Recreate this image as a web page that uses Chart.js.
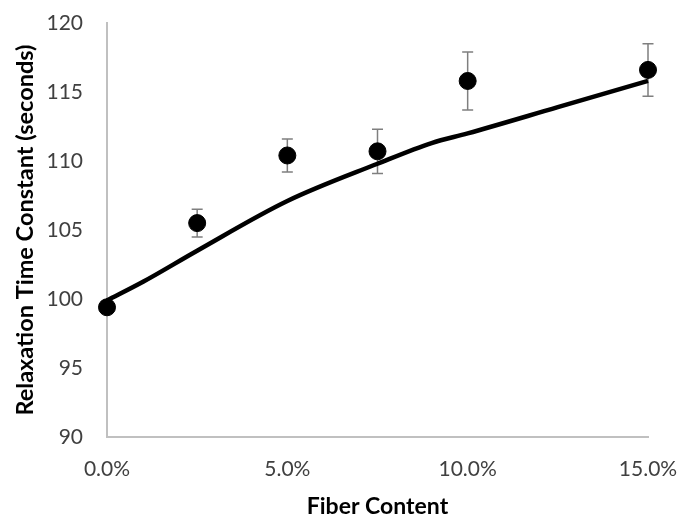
<!DOCTYPE html>
<html><head><meta charset="utf-8">
<script src="https://cdn.jsdelivr.net/npm/chart.js@4/dist/chart.umd.min.js"></script>
<style>html,body{margin:0;padding:0;background:#fff}</style>
</head><body>
<canvas id="c" width="679" height="520" style="width:679px;height:520px;display:block"></canvas>
<script>
// Measured data
const fiberContent = [0, 2.5, 5, 7.5, 10, 15];            // % fiber
const relaxationTime = [99.4, 105.5, 110.4, 110.7, 115.8, 116.6]; // seconds
const errorBars = [0, 1.0, 1.2, 1.6, 2.1, 1.9];           // +/- seconds
// Model curve
const modelX = [0, 1, 2.5, 5, 7.5, 9, 10, 12.5, 15];
const modelY = [99.9, 101.25, 103.5, 107.1, 109.8, 111.3, 112.0, 113.9, 115.8];
// Axis ticks
const xTicks = [0, 5, 10, 15];
const yTicks = [90, 95, 100, 105, 110, 115, 120];

const FONT = "Lato, 'Open Sans', 'Liberation Sans', sans-serif";

const errorBarPlugin = {
  id: 'errorBars',
  beforeDatasetsDraw(chart) {
    const {ctx, scales: {x, y}} = chart;
    ctx.save();
    ctx.strokeStyle = '#7f7f7f';
    ctx.lineWidth = 1.5;
    fiberContent.forEach((fx, i) => {
      const e = errorBars[i];
      if (!e) return;
      const px = x.getPixelForValue(fx);
      const top = y.getPixelForValue(relaxationTime[i] + e);
      const bot = y.getPixelForValue(relaxationTime[i] - e);
      ctx.beginPath();
      ctx.moveTo(px, top); ctx.lineTo(px, bot);
      ctx.moveTo(px - 5.5, top); ctx.lineTo(px + 5.5, top);
      ctx.moveTo(px - 5.5, bot); ctx.lineTo(px + 5.5, bot);
      ctx.stroke();
    });
    ctx.restore();
  }
};

new Chart(document.getElementById('c'), {
  type: 'scatter',
  data: {
    datasets: [
      {
        label: 'Measured',
        data: fiberContent.map((v, i) => ({x: v, y: relaxationTime[i]})),
        backgroundColor: '#000', borderColor: '#000',
        pointRadius: 8.5, pointHoverRadius: 8.5, showLine: false,
        order: 0, clip: false
      },
      {
        label: 'Model',
        data: modelX.map((v, i) => ({x: v, y: modelY[i]})),
        type: 'line', showLine: true, borderColor: '#000', borderWidth: 4.5,
        pointRadius: 0, tension: 0.35, cubicInterpolationMode: 'monotone',
        fill: false, order: 1, clip: false
      }
    ]
  },
  options: {
    responsive: false, animation: false,
    layout: {autoPadding: false, padding: {left: 0, top: 23, right: 31, bottom: 0}},
    plugins: {legend: {display: false}, tooltip: {enabled: false}},
    scales: {
      x: {
        type: 'linear', min: 0, max: 15,
        afterBuildTicks: (s) => { s.ticks = xTicks.map(v => ({value: v})); },
        afterFit: (s) => { s.height = 83; s.paddingLeft = 0; s.paddingRight = 0; },
        grid: {display: false, drawTicks: false},
        border: {display: true, color: '#c0c0c0', width: 2},
        ticks: {
          padding: 20, color: '#404040', font: {family: FONT, size: 21},
          callback: (v) => v.toFixed(1) + '%', maxRotation: 0
        },
        title: {display: true, text: 'Fiber Content', color: '#000',
          font: {family: FONT, size: 23, weight: 'bold'}, padding: {top: 0, bottom: 0}}
      },
      y: {
        min: 90, max: 120,
        afterBuildTicks: (s) => { s.ticks = yTicks.map(v => ({value: v})); },
        afterFit: (s) => { s.width = 107; s.paddingTop = 0; s.paddingBottom = 0; },
        grid: {display: false, drawTicks: false},
        border: {display: true, color: '#c0c0c0', width: 2},
        ticks: {padding: 24, color: '#404040', font: {family: FONT, size: 21}},
        title: {display: true, text: 'Relaxation Time Constant (seconds)', color: '#000',
          font: {family: FONT, size: 23.5, weight: 'bold'}, padding: {top: 11, bottom: 0}}
      }
    }
  },
  plugins: [errorBarPlugin]
});
</script>
</body></html>
